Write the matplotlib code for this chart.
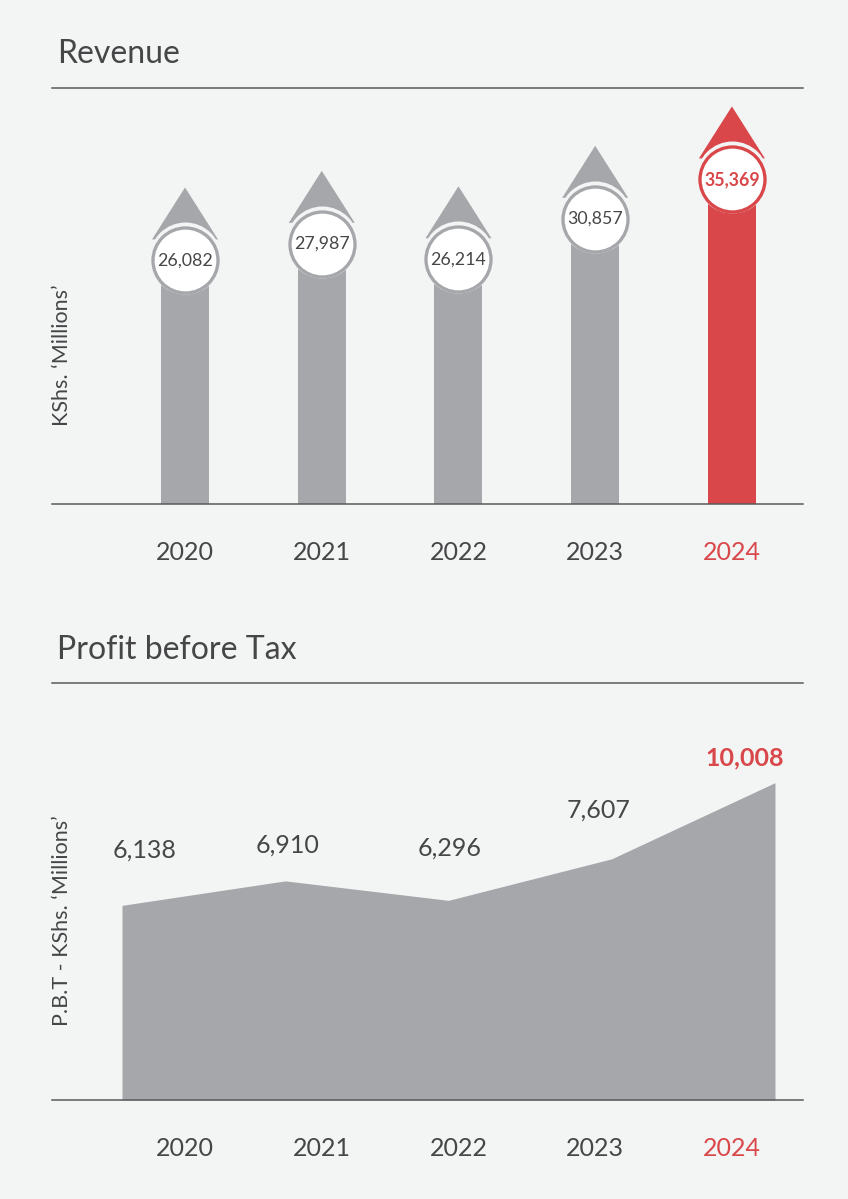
import numpy as np
import matplotlib.pyplot as plt
from matplotlib.patches import Polygon

# data
years = ['2020', '2021', '2022', '2023', '2024']
revenue = [26082, 27987, 26214, 30857, 35369]
pbt = [6138, 6910, 6296, 7607, 10008]

# colours
bg = '#f3f4f4'
grey = '#a6a7aa'
red = '#d9474a'
txt = '#464648'
rule = '#5a5a5a'

plt.rcParams['font.family'] = ['Lato', 'DejaVu Sans']

W, H = 848, 1199
fig = plt.figure(figsize=(W / 100, H / 100), dpi=100, facecolor=bg)


def add_axes_px(left, top, right, bottom):
    return fig.add_axes([left / W, 1 - bottom / H, (right - left) / W, (bottom - top) / H])


def style_axes(ax):
    ax.set_facecolor(bg)
    for s in ['left', 'right']:
        ax.spines[s].set_visible(False)
    for s in ['top', 'bottom']:
        ax.spines[s].set_color(rule)
        ax.spines[s].set_linewidth(1.1)
        ax.spines[s].set_zorder(6)
    ax.set_yticks([])
    ax.tick_params(axis='x', length=0)


# ---------------- Revenue ----------------
ax1 = add_axes_px(52, 88, 803, 504)
style_axes(ax1)
xl, xr = -0.973, 4.52
yb, yt = -10200, 37480
ax1.set_xlim(xl, xr)
ax1.set_ylim(yb, yt)
xpx = (xr - xl) / 751   # x units per pixel
ypx = (yt - yb) / 416   # y units per pixel

x = np.arange(len(years))
cols = [grey] * 4 + [red]
head_h = 52 * ypx
head_w = 33 * xpx
for i, v in enumerate(revenue):
    top_body = v - head_h + 1 * ypx
    ax1.bar(x[i], top_body - yb, bottom=yb, width=48 * xpx, color=cols[i], zorder=1)
    tri = Polygon([(x[i] - head_w, v - head_h), (x[i] + head_w, v - head_h), (x[i], v)],
                  closed=True, facecolor=cols[i], edgecolor='none', zorder=1)
    ax1.add_patch(tri)
    cy = v - 73 * ypx
    ax1.plot(x[i], cy + 2 * ypx, 'o', ms=72 * 0.72, mfc=bg, mec='none', zorder=3, clip_on=False)
    ax1.plot(x[i], cy, 'o', ms=65 * 0.72, mfc='white', mec=cols[i], mew=3.3 * 0.72, zorder=4, clip_on=False)
    ax1.text(x[i], cy, f'{v:,}', ha='center', va='center', fontsize=12.8,
             color=red if i == 4 else txt, fontweight='bold' if i == 4 else 'normal', zorder=5)

ax1.set_xticks(x)
ax1.set_xticklabels(years, fontsize=18, color=txt)
ax1.tick_params(axis='x', pad=27)
ax1.get_xticklabels()[-1].set_color(red)

# ---------------- Profit before Tax ----------------
ax2 = add_axes_px(52, 683, 803, 1100)
style_axes(ax2)
ax2.set_xlim(-0.4288, 4.1715)
ax2.set_ylim(0, 13150)
ax2.fill_between(x, 0, pbt, color=grey, lw=0, zorder=1)
ax2.set_xticks([])

label_off = [(23, 55), (2, 36), (1, 52), (-13, 49), (-30, 25)]
for i, v in enumerate(pbt):
    ax2.annotate(f'{v:,}', (x[i], v), xytext=(label_off[i][0], label_off[i][1]),
                 textcoords='offset pixels', ha='center', va='center', fontsize=18,
                 color=red if i == 4 else txt, fontweight='bold' if i == 4 else 'normal')

ax2b = ax2.twiny()
ax2b.set_xlim(xl, xr)
for s in ax2b.spines.values():
    s.set_visible(False)
ax2b.xaxis.set_ticks_position('bottom')
ax2b.set_xticks(x)
ax2b.set_xticklabels(years, fontsize=18, color=txt)
ax2b.tick_params(axis='x', length=0, pad=27)
ax2b.get_xticklabels()[-1].set_color(red)

# titles and axis labels
fig.text(57 / W, 1 - 63 / H, 'Revenue', fontsize=23, color=txt, va='baseline')
fig.text(57 / W, 1 - 659 / H, 'Profit before Tax', fontsize=23, color=txt, va='baseline')
fig.text(62 / W, 1 - 355 / H, 'KShs. \u2018Millions\u2019', rotation=90, fontsize=15.5,
         color=txt, ha='center', va='center')
fig.text(62 / W, 1 - 921 / H, 'P.B.T - KShs. \u2018Millions\u2019', rotation=90, fontsize=15.5,
         color=txt, ha='center', va='center')

fig.savefig('out.png', dpi=100, facecolor=bg)
